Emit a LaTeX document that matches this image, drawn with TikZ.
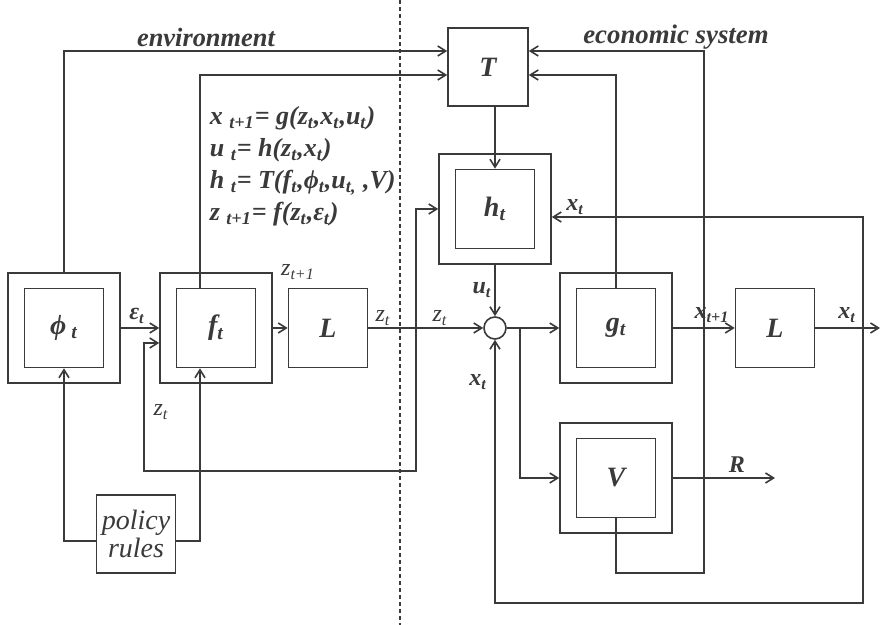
\documentclass[tikz,border=0pt]{standalone}
\usepackage{fontspec}
\setmainfont{Liberation Serif}
\usepackage{tikz}
\usetikzlibrary{arrows.meta,calc}
\definecolor{SysGray}{HTML}{3A3A3A}

\begin{document}
\begin{tikzpicture}[x=0.5pt,y=-0.5pt,line width=0.8pt,color=SysGray,
  >={Straight Barb[length=4pt,width=5pt]},
  inbox/.style={draw,minimum width=39.5pt,minimum height=39.5pt,inner sep=0pt,
    font=\fontsize{14}{16}\selectfont\bfseries\itshape},
  outbox/.style={draw,minimum width=56pt,minimum height=55pt,inner sep=0pt},
  sig/.style={font=\fontsize{12}{14}\selectfont\bfseries\itshape,inner sep=1pt},
  sigl/.style={font=\fontsize{12}{14}\selectfont\itshape,inner sep=1pt}]
\fill[white] (0,0) rectangle (880,625);
\useasboundingbox (0,0) rectangle (880,625);
\draw[line width=0.6pt,dash pattern=on 2pt off 1.5pt] (400,0) -- (400,625);
\node[font=\fontsize{13.2}{16}\selectfont\bfseries\itshape] (env) at (206,37) {environment};
\node[font=\fontsize{13.4}{16}\selectfont\bfseries\itshape] (eco) at (676,37) {economic system};
\node[outbox] (phio) at (64,328) {};
\node[inbox] (phii) at (64,328) {ϕ\textsubscript{ t}};
\node[outbox] (fo) at (216,328) {};
\node[inbox] (fi) at (216,328) {f\textsubscript{t}};
\node[inbox] (L1) at (328,328) {L};
\node[draw,minimum width=40pt,minimum height=39pt,inner sep=0pt,
  font=\fontsize{14}{16}\selectfont\bfseries\itshape] (T) at (488,67) {T};
\node[outbox] (ho) at (495,209) {};
\node[inbox] (hi) at (495,209) {h\textsubscript{t}};
\node[draw,circle,minimum size=11pt,inner sep=0pt] (sum) at (495,328) {};
\node[outbox] (go) at (616,328) {};
\node[inbox] (gi) at (616,328) {g\textsubscript{t}};
\node[inbox] (L2) at (775,328) {L};
\node[outbox] (Vo) at (616,478) {};
\node[inbox] (Vi) at (616,478) {V};
\node[draw,minimum width=39.5pt,minimum height=39pt,inner sep=0pt,align=center,
  font=\fontsize{14}{14}\selectfont\itshape] (pol) at (136,534) {policy\\rules};
\node[anchor=north west,align=left,inner sep=0pt,
  font=\fontsize{13}{16}\selectfont\bfseries\itshape] (eqs) at (209,106)
  {x \textsubscript{t+1}= g(z\textsubscript{t},x\textsubscript{t},u\textsubscript{t})\\
   u \textsubscript{t}= h(z\textsubscript{t},x\textsubscript{t})\\
   h \textsubscript{t}= T(f\textsubscript{t},ϕ\textsubscript{t},u\textsubscript{t,} ,V)\\
   z \textsubscript{t+1}= f(z\textsubscript{t},ε\textsubscript{t})};
\coordinate (zb) at (416,328);
\coordinate (zc) at (144,471);
\coordinate (cb) at (520,328);
\coordinate (vc) at (704,573);
\coordinate (xb) at (863,328);
\coordinate (xc) at (863,603);
\coordinate (xout) at (880,328);
\coordinate (rout) at (775,478);
\draw[->] (phio.north) |- ([yshift=8pt]T.west);
\draw[->] ([xshift=-8pt]fi.north) |- ([yshift=-4pt]T.west);
\draw[->] (phio.east) -- (fo.west);
\draw[->] (fo.east) -- (L1.west);
\draw[->] (L1.east) -- (sum.west);
\draw[->] (zb) |- (ho.west);
\draw[->] (zb) |- (zc) |- ([yshift=-7.5pt]fo.west);
\draw[->] (T.south -| hi.north) -- (hi.north);
\draw[->] (ho.south) -- (sum.north);
\draw[->] (sum.east) -- (go.west);
\draw[->] (cb) |- (Vo.west);
\draw[->] (gi.north) |- ([yshift=-4pt]T.east);
\draw[->] (Vi.south) |- (vc) |- ([yshift=8pt]T.east);
\draw[->] (go.east) -- (L2.west);
\draw[->] (L2.east) -- (xout);
\draw[->] (xb) |- ([yshift=-4pt]ho.east);
\draw[->] (xb) -- (xc) -| (sum.south);
\draw[->] (Vo.east) -- (rout);
\draw[->] ([yshift=-3.5pt]pol.west) -| (phii.south);
\draw[->] ([yshift=-3.5pt]pol.east) -| ([xshift=-8pt]fi.south);
\node[sigl] (lzn) at (298,272) {z\textsubscript{t+1}};
\node[sig] (leps) at (137,316) {ε\textsubscript{t}};
\node[sigl] (lz1) at (383,318) {z\textsubscript{t}};
\node[sigl] (lz2) at (440,318) {z\textsubscript{t}};
\node[sigl] (lz3) at (161,412) {z\textsubscript{t}};
\node[sig] (lu) at (482,290) {u\textsubscript{t}};
\node[sig] (lx1) at (575,207) {x\textsubscript{t}};
\node[sig] (lx2) at (478,382) {x\textsubscript{t}};
\node[sig] (lx3) at (712,315) {x\textsubscript{t+1}};
\node[sig] (lx4) at (847,315) {x\textsubscript{t}};
\node[sig] (lR) at (737,465) {R};
\end{tikzpicture}
\end{document}
